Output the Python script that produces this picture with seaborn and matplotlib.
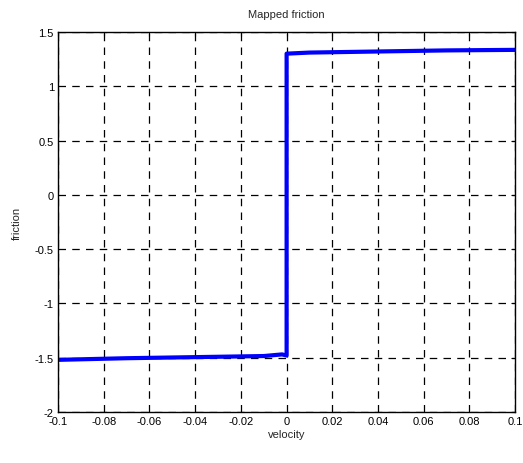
import matplotlib.pyplot as plt
import seaborn as sns
import pandas as pd

# Mapped friction curve
velocity = [-0.1, -0.07, -0.04, -0.01, -0.002, 0.0, 0.0, 0.01, 0.04, 0.07, 0.1]
friction = [-1.52, -1.505, -1.495, -1.485, -1.47, -1.48, 1.30, 1.31, 1.32, 1.33, 1.335]

xticks = [-0.1, -0.08, -0.06, -0.04, -0.02, 0, 0.02, 0.04, 0.06, 0.08, 0.1]
xticklabels = ['-0.1', '-0.08', '-0.06', '-0.04', '-0.02', '0', '0.02', '0.04', '0.06', '0.08', '0.1']
yticks = [-2, -1.5, -1, -0.5, 0, 0.5, 1, 1.5]
yticklabels = ['-2', '-1.5', '-1', '-0.5', '0', '0.5', '1', '1.5']

sns.set_style('white')
plt.rcParams['font.family'] = ['Liberation Sans', 'DejaVu Sans']

df = pd.DataFrame({'velocity': velocity, 'friction': friction})

fig = plt.figure(figsize=(5.23, 4.64), dpi=100)
ax = fig.add_axes([0.111, 0.110, 0.874, 0.819])

sns.lineplot(data=df, x='velocity', y='friction', estimator=None, sort=False,
             color='#0000ff', linewidth=3, ax=ax)

ax.set_xlim(-0.1, 0.1)
ax.set_ylim(-2, 1.5)
ax.set_xticks(xticks)
ax.set_xticklabels(xticklabels)
ax.set_yticks(yticks)
ax.set_yticklabels(yticklabels)
ax.grid(True, color='black', linestyle=(0, (6, 5)), linewidth=0.9)
ax.set_axisbelow(True)
ax.tick_params(direction='in', length=3, width=0.8, labelsize=8, pad=3,
               top=True, right=True, colors='black')
for s in ax.spines.values():
    s.set_color('black')
    s.set_linewidth(1.0)

ax.set_title('Mapped friction', fontsize=8, pad=11)
ax.set_xlabel('velocity', fontsize=8, labelpad=2)
ax.set_ylabel('friction', fontsize=8, labelpad=9)

fig.savefig('out.png', dpi=100)
